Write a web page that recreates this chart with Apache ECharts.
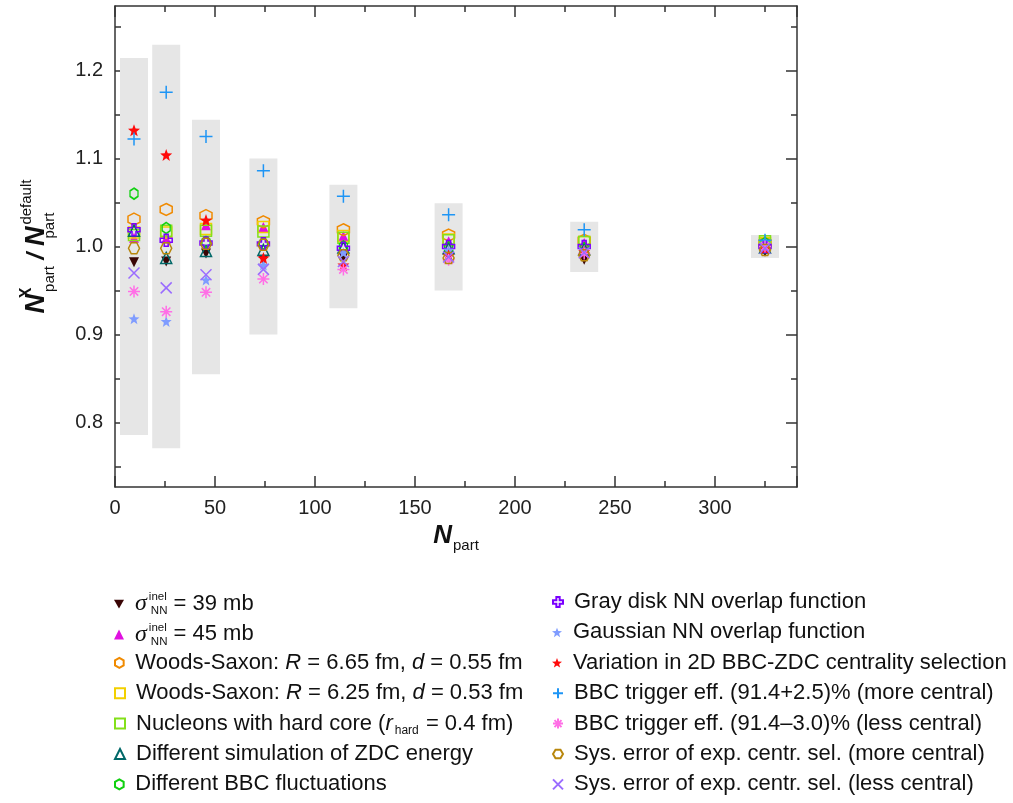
<!DOCTYPE html>
<html>
<head>
<meta charset="utf-8">
<script src="https://cdn.jsdelivr.net/npm/echarts@6/dist/echarts.min.js"></script>
<style>
  html, body { margin: 0; padding: 0; background: #fff; }
  #chart { width: 1013px; height: 803px; }
</style>
</head>
<body>
<div id="chart"></div>
<script>
// Centrality bins: mean N_part of each bin
const npart = [9.5, 25.6, 45.5, 74.2, 114.2, 166.8, 234.6, 325.0];

// Total systematic band of N_part (lower / upper edge of the grey boxes)
const bandLow  = [0.786, 0.771, 0.855, 0.900, 0.930, 0.950, 0.971, 0.987];
const bandHigh = [1.214, 1.229, 1.144, 1.100, 1.070, 1.049, 1.028, 1.013];

// Ratio N_part(variation) / N_part(default) for each Glauber variation
const sigma39   = [0.982, 0.983, 0.992, 0.985, 0.988, 0.986, 0.985, 0.994];
const sigma45   = [1.010, 1.009, 1.024, 1.022, 1.012, 1.006, 1.004, 1.003];
const ws665     = [1.031, 1.042, 1.035, 1.028, 1.019, 1.013, 1.007, 1.004];
const ws625     = [1.016, 1.016, 1.020, 1.022, 1.012, 1.008, 1.005, 1.004];
const hardCore  = [1.013, 1.018, 1.018, 1.017, 1.010, 1.007, 1.005, 1.006];
const zdcSim    = [1.018, 0.987, 0.995, 0.996, 0.999, 0.998, 0.997, 0.999];
const bbcFluct  = [1.060, 1.021, 1.005, 1.003, 1.000, 0.999, 0.998, 1.004];
const grayDisk  = [1.019, 1.007, 1.004, 1.003, 0.998, 1.000, 1.000, 1.000];
const gaussNN   = [0.918, 0.915, 0.962, 0.979, 0.993, 0.996, 0.996, 0.999];
const bbcZdc2D  = [1.132, 1.104, 1.030, 0.987, 0.979, 0.990, 0.994, 0.998];
const trigMore  = [1.122, 1.175, 1.125, 1.086, 1.057, 1.036, 1.019, 1.007];
const trigLess  = [0.949, 0.926, 0.948, 0.963, 0.974, 0.985, 0.992, 1.000];
const sysMore   = [0.998, 0.998, 1.003, 1.002, 0.990, 0.987, 0.990, 0.996];
const sysLess   = [0.970, 0.953, 0.968, 0.974, 0.983, 0.988, 0.993, 0.998];

// Axis ticks and their labels
const xTickLabels = ['0', '50', '100', '150', '200', '250', '300'];
const yMajorTicks = [0.8, 0.9, 1.0, 1.1, 1.2];
const yMinorTicks = [0.75, 0.85, 0.95, 1.05, 1.15, 1.25];
const yTickLabels = ['0.8', '0.9', '1.0', '1.1', '1.2'];

const FONT = '"Liberation Sans", Arial, Helvetica, sans-serif';

// Marker shapes
const DOWN_TRI = 'path://M-1,-0.85 L1,-0.85 L0,0.9 Z';
const HEX_POINTY = 'path://M0,-1 L0.866,-0.5 L0.866,0.5 L0,1 L-0.866,0.5 L-0.866,-0.5 Z';
const HEX_FLAT = 'path://M-0.5,-0.866 L0.5,-0.866 L1,0 L0.5,0.866 L-0.5,0.866 L-1,0 Z';
const GREEK_CROSS = 'path://M-0.33,-1 L0.33,-1 L0.33,-0.33 L1,-0.33 L1,0.33 L0.33,0.33 L0.33,1 L-0.33,1 L-0.33,0.33 L-1,0.33 L-1,-0.33 L-0.33,-0.33 Z';
const STAR = 'path://M0,-1 L0.247,-0.34 L0.951,-0.309 L0.399,0.13 L0.588,0.809 L0,0.42 L-0.588,0.809 L-0.399,0.13 L-0.951,-0.309 L-0.247,-0.34 Z';
const PLUS = 'path://M-1,0 L1,0 M0,-1 L0,1';
const CROSS_X = 'path://M-1,-1 L1,1 M-1,1 L1,-1';
const ASTERISK = 'path://M-1,0 L1,0 M0,-1 L0,1 M-0.7,-0.7 L0.7,0.7 M-0.7,0.7 L0.7,-0.7';

function pairs(ys) { return npart.map((x, i) => [x, ys[i]]); }

function filled(name, ys, symbol, color, size) {
  return {
    name, type: 'scatter', data: pairs(ys), symbol, symbolSize: size, z: 3,
    itemStyle: { color: color, opacity: 1 },
  };
}
function hollow(name, ys, symbol, color, size, lw) {
  return {
    name, type: 'scatter', data: pairs(ys), symbol, symbolSize: size, z: 3,
    itemStyle: { color: 'rgba(0,0,0,0)', borderColor: color, borderWidth: lw || 1.5, opacity: 1 },
  };
}

const LEGEND_TEXT = {
  sigma39: '{sg|σ}{up|inel}{dn|NN}{t| = 39 mb}',
  sigma45: '{sg|σ}{up|inel}{dn|NN}{t| = 45 mb}',
  ws665: '{t|Woods-Saxon: }{i|R}{t| = 6.65 fm, }{i|d}{t| = 0.55 fm}',
  ws625: '{t|Woods-Saxon: }{i|R}{t| = 6.25 fm, }{i|d}{t| = 0.53 fm}',
  hardcore: '{t|Nucleons with hard core (}{i|r}{dh|hard}{t| = 0.4 fm)}',
  zdc: '{t|Different simulation of ZDC energy}',
  bbcfluct: '{t|Different BBC fluctuations}',
  graydisk: '{t|Gray disk NN overlap function}',
  gaussian: '{t|Gaussian NN overlap function}',
  bbczdc: '{t|Variation in 2D BBC-ZDC centrality selection}',
  trigmore: '{t|BBC trigger eff. (91.4+2.5)% (more central)}',
  trigless: '{t|BBC trigger eff. (91.4\u20133.0)% (less central)}',
  sysmore: '{t|Sys. error of exp. centr. sel. (more central)}',
  sysless: '{t|Sys. error of exp. centr. sel. (less central)}'
};

const legendRich = {
  t:  { fontFamily: FONT, fontSize: 22, lineHeight: 26, color: '#111' },
  i:  { fontFamily: FONT, fontSize: 22, lineHeight: 26, color: '#111', fontStyle: 'italic' },
  sg: { fontFamily: '"Liberation Serif", serif', fontSize: 24, lineHeight: 26, color: '#111', fontStyle: 'italic' },
  up: { fontFamily: FONT, fontSize: 11.5, lineHeight: 12, color: '#111', verticalAlign: 'top', width: 0, padding: [0, 0, 0, 2] },
  dn: { fontFamily: FONT, fontSize: 11.5, lineHeight: 12, color: '#111', verticalAlign: 'bottom', padding: [0, 0, 0, 2] },
  dh: { fontFamily: FONT, fontSize: 12, lineHeight: 12, color: '#111', verticalAlign: 'bottom', padding: [0, 1, 0, 2] }
};

// One legend block per entry so every row sits at a fixed pitch
const LEGEND_ROWS = [
  ['sigma39', 0, 0, DOWN_TRI], ['sigma45', 0, 1], ['ws665', 0, 2], ['ws625', 0, 3],
  ['hardcore', 0, 4], ['zdc', 0, 5], ['bbcfluct', 0, 6],
  ['graydisk', 1, 0], ['gaussian', 1, 1], ['bbczdc', 1, 2], ['trigmore', 1, 3],
  ['trigless', 1, 4], ['sysmore', 1, 5], ['sysless', 1, 6]
];
const legends = LEGEND_ROWS.map(([name, col, row, icon]) => ({
  left: col === 0 ? 114 : 552,
  top: 591 + row * 30.4,
  orient: 'vertical', padding: 0, itemGap: 0,
  itemWidth: 10, itemHeight: 10, selectedMode: false,
  data: [icon ? { name, icon } : name],
  formatter: n => LEGEND_TEXT[n],
  textStyle: { padding: [0, 0, 0, 6], rich: legendRich }
}));

const series = [
  {
    name: 'band', type: 'custom', z: 1, silent: true,
    data: npart.map((x, i) => [x, bandLow[i], bandHigh[i]]),
    renderItem(params, api) {
      const HALF = 7; // half box width in N_part units
      const x = api.value(0);
      const p1 = api.coord([x - HALF, api.value(2)]);
      const p2 = api.coord([x + HALF, api.value(1)]);
      return { type: 'rect', shape: { x: p1[0], y: p1[1], width: p2[0] - p1[0], height: p2[1] - p1[1] },
               style: { fill: '#e6e6e6' } };
    }
  },
  filled('sigma39', sigma39, DOWN_TRI, '#3a0505', 10),
  filled('sigma45', sigma45, 'triangle', '#e010e0', 10),
  hollow('ws665', ws665, HEX_POINTY, '#f08a00', 12),
  hollow('ws625', ws625, 'rect', '#f2d000', 11),
  hollow('hardcore', hardCore, 'rect', '#84e01a', 11),
  hollow('zdc', zdcSim, 'triangle', '#006868', 11),
  hollow('bbcfluct', bbcFluct, HEX_POINTY, '#10d010', [8, 11]),
  hollow('graydisk', grayDisk, GREEK_CROSS, '#7a00ff', 12),
  filled('gaussian', gaussNN, STAR, '#7f9cff', 11),
  filled('bbczdc', bbcZdc2D, STAR, '#ff0a0a', 12),
  hollow('trigmore', trigMore, PLUS, '#1e95f5', 13, 1.5),
  hollow('trigless', trigLess, ASTERISK, '#ff6fe6', 12, 1.5),
  hollow('sysmore', sysMore, HEX_FLAT, '#b8860b', 11),
  hollow('sysless', sysLess, CROSS_X, '#9a6cff', 11, 1.5)
];

const axisLine = { show: true, lineStyle: { color: '#333', width: 1.5 } };
const tickStyle = { color: '#333', width: 1.5 };

function xAx(position, withLabels) {
  return {
    type: 'value', position, min: 0, max: 341, interval: 50,
    axisLine, splitLine: { show: false },
    axisTick: { show: true, inside: true, length: 11, lineStyle: tickStyle },
    minorTick: { show: true, splitNumber: 2, length: 6, lineStyle: tickStyle },
    axisLabel: withLabels ? {
      show: true, fontFamily: FONT, fontSize: 20, color: '#222', margin: 11,
      showMaxLabel: false,
      formatter: v => { const k = Math.round(v / 50); return (Math.abs(v - k * 50) < 1e-6 && xTickLabels[k]) || ''; }
    } : { show: false },
    name: withLabels ? '{N|N}{p|part}' : '',
    nameLocation: 'middle', nameGap: 32,
    nameTextStyle: {
      rich: {
        N: { fontFamily: FONT, fontSize: 26, fontWeight: 'bold', fontStyle: 'italic', color: '#111', lineHeight: 34 },
        p: { fontFamily: FONT, fontSize: 15, color: '#111', lineHeight: 16, verticalAlign: 'bottom', padding: [0, 0, 0, 1] }
      }
    }
  };
}

// Value range of the ratio axis
const Y_MIN = 0.727, Y_MAX = 1.273;

function yAx(position, kind) {
  const major = kind !== 'minor';
  const ax = {
    type: 'value', position, min: Y_MIN, max: Y_MAX,
    axisLine: major ? axisLine : { show: false },
    splitLine: { show: false },
    axisTick: { show: true, inside: true, length: major ? 11 : 6, lineStyle: tickStyle,
                customValues: major ? yMajorTicks : yMinorTicks },
    axisLabel: { show: false }
  };
  if (kind === 'labels') {
    ax.axisLabel = {
      show: true, fontFamily: FONT, fontSize: 20, color: '#222', margin: 12,
      customValues: yMajorTicks,
      formatter: v => { const k = yMajorTicks.findIndex(t => Math.abs(t - v) < 1e-6); return k >= 0 ? yTickLabels[k] : ''; }
    };
    ax.name = '{N|N}{x|X}{p|part}{sl| / }{N|N}{p0|part}{d|default}';
    ax.nameLocation = 'middle';
    ax.nameGap = 58;
    ax.nameRotate = 90;
    ax.nameTextStyle = {
      rich: {
        N: { fontFamily: FONT, fontSize: 27, fontWeight: 'bold', fontStyle: 'italic', color: '#111', lineHeight: 40 },
        sl: { fontFamily: FONT, fontSize: 24, fontWeight: 'bold', fontStyle: 'italic', color: '#111', lineHeight: 40 },
        x: { fontFamily: FONT, fontSize: 16, fontWeight: 'bold', color: '#111', lineHeight: 16, verticalAlign: 'top', width: 0, padding: [2, 0, 0, 1] },
        p: { fontFamily: FONT, fontSize: 15, color: '#111', lineHeight: 16, verticalAlign: 'bottom', padding: [0, 0, 0, 1] },
        p0: { fontFamily: FONT, fontSize: 15, color: '#111', lineHeight: 16, verticalAlign: 'bottom', width: 0, padding: [0, 0, 0, 1] },
        d: { fontFamily: FONT, fontSize: 15, color: '#111', lineHeight: 16, verticalAlign: 'top', padding: [2, 0, 0, 1] }
      }
    };
  }
  return ax;
}

const chart = echarts.init(document.getElementById('chart'), null, { renderer: 'canvas' });
chart.setOption({
  animation: false,
  backgroundColor: '#fff',
  grid: { left: 115, right: 216, top: 6, bottom: 316, containLabel: false },
  xAxis: [xAx('bottom', true), xAx('top', false)],
  yAxis: [yAx('left', 'labels'), yAx('left', 'minor'), yAx('right', 'major'), yAx('right', 'minor')],
  legend: legends,
  series
});
</script>
</body>
</html>
